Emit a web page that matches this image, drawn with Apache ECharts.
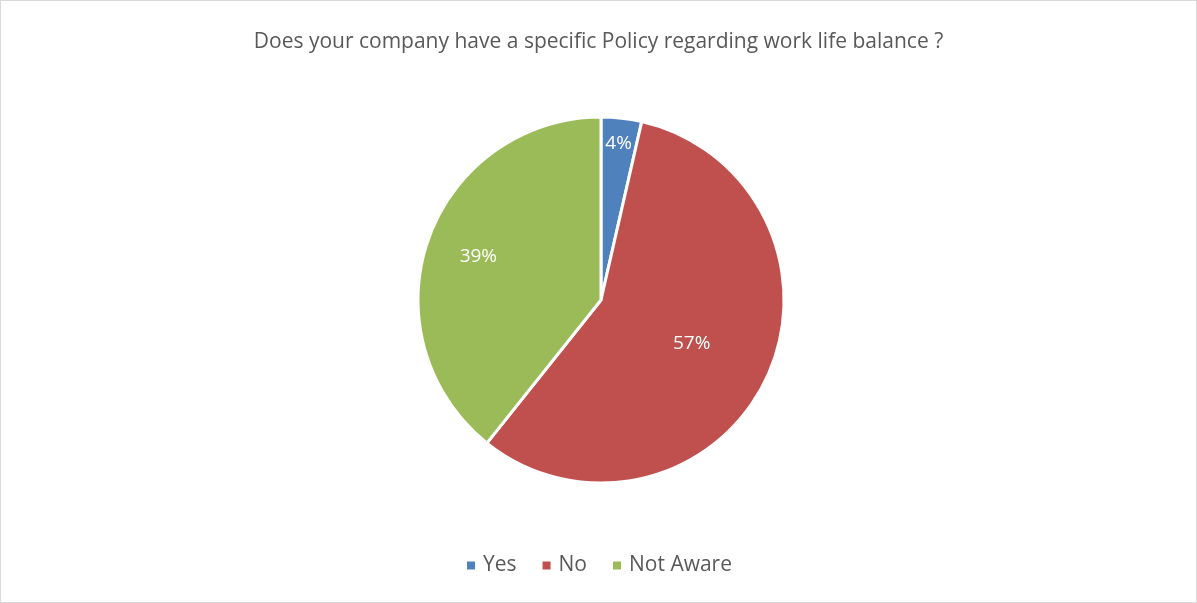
<!DOCTYPE html>
<html><head><meta charset="utf-8">
<script src="https://cdn.jsdelivr.net/npm/echarts@6/dist/echarts.min.js"></script>
<style>
html,body{margin:0;padding:0;background:#fff;}
#c{position:absolute;left:0;top:0;width:1195px;height:601px;border:1px solid #d9d9d9;}
</style></head><body>
<div id="c"></div>
<script>
const categories = ['Yes', 'No', 'Not Aware'];
const counts = [1, 16, 11];
const colors = ['#4F81BD', '#C0504D', '#9BBB59'];
const titleText = 'Does your company have a specific Policy regarding work life balance ?';
// label radial placement (fraction of radius)
const labelRadius = [0.86, 0.55, 0.71];

const chart = echarts.init(document.getElementById('c'));
const cx = 600, cy = 299, R = 183;
chart.setOption({
  animation: false,
  title: {
    text: titleText, left: 'center', top: 26,
    textStyle: {fontFamily: 'Open Sans', fontSize: 21, fontWeight: 'normal', color: '#595959'}
  },
  legend: {
    bottom: 21, left: 'center', itemWidth: 10, itemHeight: 10, itemGap: 24,
    icon: 'rect',
    textStyle: {fontFamily: 'Open Sans', fontSize: 21, color: '#595959', padding: [0, 0, 0, 2]},
    data: categories
  },
  series: [{
    type: 'pie',
    center: [cx, cy], radius: [0, R],
    startAngle: 90, clockwise: true,
    itemStyle: {borderColor: '#fff', borderWidth: 3},
    label: {
      show: true, position: 'inside', color: '#fff',
      fontFamily: 'Open Sans', fontSize: 19,
      formatter: p => Math.round(p.percent) + '%'
    },
    labelLine: {show: false},
    emphasis: {disabled: true},
    labelLayout: function (p) {
      const r = p.labelRect;
      const lx = r.x + r.width / 2, ly = r.y + r.height / 2;
      const dx = lx - cx, dy = ly - cy;
      const d = Math.sqrt(dx * dx + dy * dy) || 1;
      const t = labelRadius[p.dataIndex] * R;
      return {x: cx + dx / d * t, y: cy + dy / d * t, align: 'center', verticalAlign: 'middle'};
    },
    data: categories.map((c, i) => ({name: c, value: counts[i], itemStyle: {color: colors[i]}}))
  }]
});
</script>
</body></html>
